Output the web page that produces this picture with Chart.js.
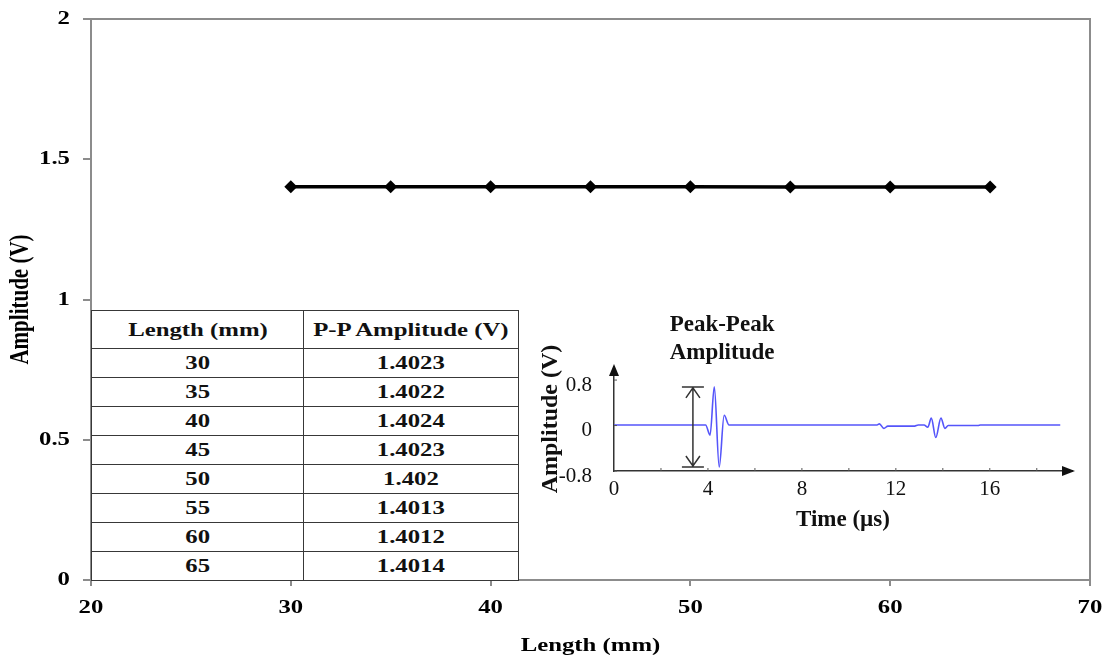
<!DOCTYPE html>
<html>
<head>
<meta charset="utf-8">
<script src="https://cdn.jsdelivr.net/npm/chart.js@4.4.0/dist/chart.umd.min.js"></script>
<style>
  html, body { margin: 0; padding: 0; background: #fff; }
  #wrap { position: relative; width: 1113px; height: 663px; overflow: hidden; background: #fff; }
  #main { position: absolute; left: 0; top: 0; }
  #inset { position: absolute; left: 520px; top: 300px; }
  #tbl { position: absolute; left: 91px; top: 310px; width: 428px; border-collapse: collapse; background: #fff;
         font-family: 'Liberation Serif', 'Times New Roman', serif; font-weight: bold; font-size: 19.5px; color: #111; }
  #tbl td { border: 1.5px solid #383838; text-align: center; padding: 0; line-height: 1; }
  #tbl tr.h td { height: 37px; }
  #tbl tr.r td { height: 28px; }
  #tbl span { display: inline-block; transform: scaleX(1.27); }
</style>
</head>
<body>
<div id="wrap">
  <canvas id="main" width="1113" height="663"></canvas>
  <table id="tbl"></table>
  <canvas id="inset" width="580" height="245"></canvas>
</div>
<script>
// ---------- data ----------
const lengths = [30, 35, 40, 45, 50, 55, 60, 65];
const ppAmplitude = [1.4023, 1.4022, 1.4024, 1.4023, 1.402, 1.4013, 1.4012, 1.4014];
const tableHeaders = ['Length (mm)', 'P-P Amplitude (V)'];

// inset waveform (time in µs, amplitude in V)
const sigTime = [0, 3.9, 4.09, 4.27, 4.48, 4.69, 4.9, 11.2, 11.3, 11.49, 11.66, 12.8, 12.95, 13.2, 13.36, 13.51, 13.7, 13.92, 14.09, 14.23, 15.5, 15.6, 19.0];
const sigAmp  = [0.01, 0.01, -0.17, 0.68, -0.73, 0.18, 0.01, 0.01, 0.03, -0.05, -0.01, -0.01, 0.01, 0.01, -0.03, 0.13, -0.21, 0.13, -0.05, 0.0, 0.0, 0.01, 0.01];
const insetXTicks = [0, 4, 8, 12, 16];
const insetXMinor = [2, 4, 6, 8, 10, 12, 14, 16, 18];
const insetYTicks = [-0.8, 0, 0.8];

const FONT = "'Liberation Serif', 'Times New Roman', serif";

// ---------- table ----------
(function buildTable() {
  const t = document.getElementById('tbl');
  let html = '<colgroup><col style="width:213px"><col style="width:215px"></colgroup>';
  html += '<tr class="h">' + tableHeaders.map(h => '<td><span>' + h + '</span></td>').join('') + '</tr>';
  lengths.forEach((L, i) => {
    html += '<tr class="r"><td><span>' + L + '</span></td><td><span>' + String(ppAmplitude[i]) + '</span></td></tr>';
  });
  t.innerHTML = html;
})();

// horizontal text stretch (reference glyphs are wide)
function stretchText(ctx, sx) {
  const orig = ctx.fillText.bind(ctx);
  ctx.fillText = function (text, x, y, maxWidth) {
    const m = ctx.getTransform();
    const p = m.transformPoint(new DOMPoint(x, y));
    ctx.save();
    ctx.setTransform(new DOMMatrix().translate(p.x, p.y).scale(sx, 1).translate(-p.x, -p.y).multiply(m));
    if (maxWidth === undefined) orig(text, x, y); else orig(text, x, y, maxWidth);
    ctx.restore();
  };
}

// ---------- main chart ----------
const frame = {
  id: 'frame',
  afterDraw(chart) {
    const { ctx, chartArea: a } = chart;
    ctx.save();
    ctx.strokeStyle = '#8c8c8c';
    ctx.lineWidth = 2;
    ctx.beginPath();
    ctx.moveTo(a.left, a.top);
    ctx.lineTo(a.right, a.top);
    ctx.lineTo(a.right, a.bottom);
    ctx.stroke();
    ctx.restore();
  }
};

const mctx = document.getElementById('main').getContext('2d');
stretchText(mctx, 1.27);
const tickFont = { family: FONT, size: 19.5, weight: 'bold' };

new Chart(mctx, {
  type: 'line',
  data: {
    datasets: [{
      data: lengths.map((x, i) => ({ x: x, y: ppAmplitude[i] })),
      borderColor: '#000', backgroundColor: '#000', borderWidth: 3.5,
      pointStyle: 'rectRot', pointRadius: 6.5, pointHoverRadius: 6.5,
      pointBackgroundColor: '#000', pointBorderColor: '#000', pointBorderWidth: 0,
      tension: 0
    }]
  },
  options: {
    responsive: false, animation: false, devicePixelRatio: 1,
    layout: { padding: { top: 19, right: 23, left: 0, bottom: 0 } },
    plugins: { legend: { display: false }, tooltip: { enabled: false } },
    scales: {
      x: {
        type: 'linear', min: 20, max: 70,
        ticks: { stepSize: 10, color: '#000', font: tickFont, padding: 10, maxRotation: 0 },
        grid: { drawOnChartArea: false, drawTicks: true, tickLength: 6, color: '#8c8c8c', lineWidth: 2 },
        border: { color: '#8c8c8c', width: 2 },
        title: { display: true, text: 'Length (mm)', color: '#000', font: { family: FONT, size: 19.5, weight: 'bold' }, padding: { top: 0, bottom: 5 } },
        afterFit(s) { s.height = 83; s.paddingLeft = 0; s.paddingRight = 0; }
      },
      y: {
        type: 'linear', min: 0, max: 2,
        ticks: { stepSize: 0.5, color: '#000', font: tickFont, padding: 13, callback: v => String(v) },
        grid: { drawOnChartArea: false, drawTicks: true, tickLength: 8, color: '#8c8c8c', lineWidth: 2 },
        border: { color: '#8c8c8c', width: 2 },
        title: { display: true, text: 'Amplitude (V)', color: '#000', font: { family: FONT, size: 21, weight: 'bold' }, padding: { top: 9, bottom: 0 } },
        afterFit(s) { s.width = 91; s.paddingTop = 0; s.paddingBottom = 0; }
      }
    }
  },
  plugins: [frame]
});

// ---------- inset chart ----------
const ppArrowTime = 3.36;     // where the peak-peak marker sits (µs)
const ppLabelTime = 4.6;      // centre of the "Peak-Peak Amplitude" note (µs)

const insetDecor = {
  id: 'insetDecor',
  afterDraw(chart) {
    const { ctx, chartArea: a, scales: { x, y } } = chart;
    ctx.save();
    const ax = x.getPixelForValue(0);
    const ay = y.getPixelForValue(-0.8);
    ctx.fillStyle = '#111';
    ctx.strokeStyle = '#333';
    ctx.lineWidth = 1.5;
    // y axis arrow
    ctx.beginPath();
    ctx.moveTo(ax, a.top - 3);
    ctx.lineTo(ax - 5, a.top + 9);
    ctx.lineTo(ax + 5, a.top + 9);
    ctx.closePath(); ctx.fill();
    // x axis arrow
    ctx.beginPath();
    ctx.moveTo(a.right + 3, ay);
    ctx.lineTo(a.right - 10, ay - 5);
    ctx.lineTo(a.right - 10, ay + 5);
    ctx.closePath(); ctx.fill();
    // small inward ticks
    ctx.lineWidth = 1;
    ctx.strokeStyle = '#555';
    insetXMinor.forEach(v => {
      const px = x.getPixelForValue(v);
      ctx.beginPath(); ctx.moveTo(px, ay); ctx.lineTo(px, ay - 3); ctx.stroke();
    });
    insetYTicks.forEach(v => {
      const py = y.getPixelForValue(v);
      ctx.beginPath(); ctx.moveTo(ax, py); ctx.lineTo(ax + 3, py); ctx.stroke();
    });
    // peak-peak double arrow
    const px = x.getPixelForValue(ppArrowTime);
    const yTop = y.getPixelForValue(Math.max(...sigAmp));
    const yBot = y.getPixelForValue(Math.min(...sigAmp));
    ctx.strokeStyle = '#333';
    ctx.lineWidth = 1.5;
    ctx.beginPath();
    ctx.moveTo(px - 11, yTop); ctx.lineTo(px + 11, yTop);
    ctx.moveTo(px - 11, yBot); ctx.lineTo(px + 11, yBot);
    ctx.moveTo(px, yTop); ctx.lineTo(px, yBot);
    ctx.moveTo(px - 7, yTop + 11); ctx.lineTo(px, yTop + 1); ctx.lineTo(px + 7, yTop + 11);
    ctx.moveTo(px - 7, yBot - 11); ctx.lineTo(px, yBot - 1); ctx.lineTo(px + 7, yBot - 11);
    ctx.stroke();
    // note
    const lx = x.getPixelForValue(ppLabelTime);
    ctx.fillStyle = '#111';
    ctx.font = 'bold 23px ' + FONT;
    ctx.textAlign = 'center';
    ctx.textBaseline = 'middle';
    ctx.fillText('Peak-Peak', lx, a.top - 42);
    ctx.fillText('Amplitude', lx, a.top - 14);
    ctx.restore();
  }
};

const ictx = document.getElementById('inset').getContext('2d');
new Chart(ictx, {
  type: 'line',
  data: {
    datasets: [{
      data: sigTime.map((t, i) => ({ x: t, y: sigAmp[i] })),
      borderColor: 'rgb(85, 85, 250)', borderWidth: 1.6,
      pointRadius: 0, cubicInterpolationMode: 'monotone', fill: false
    }]
  },
  options: {
    responsive: false, animation: false, devicePixelRatio: 1,
    layout: { padding: { top: 67, right: 28, left: 0, bottom: 0 } },
    plugins: { legend: { display: false }, tooltip: { enabled: false } },
    scales: {
      x: {
        type: 'linear', min: 0, max: 19.5,
        afterBuildTicks(s) { s.ticks = insetXTicks.map(v => ({ value: v })); },
        ticks: { color: '#111', font: { family: FONT, size: 21 }, padding: 6, maxRotation: 0, autoSkip: false },
        grid: { display: false, drawTicks: false },
        border: { color: '#333', width: 1.5 },
        title: { display: true, text: 'Time (µs)', color: '#111', font: { family: FONT, size: 23, weight: 'bold' }, padding: { top: 0, bottom: 11 } },
        afterFit(s) { s.height = 74; s.paddingLeft = 0; s.paddingRight = 0; }
      },
      y: {
        type: 'linear', min: -0.8, max: 1.03,
        afterBuildTicks(s) { s.ticks = insetYTicks.map(v => ({ value: v })); },
        ticks: { color: '#111', font: { family: FONT, size: 21 }, padding: 22, labelOffset: 5, autoSkip: false },
        grid: { display: false, drawTicks: false },
        border: { color: '#333', width: 1.5 },
        title: { display: true, text: 'Amplitude (V)', color: '#111', font: { family: FONT, size: 24, weight: 'bold' }, padding: { top: 16, bottom: 0 } },
        afterFit(s) { s.width = 94; s.paddingTop = 0; s.paddingBottom = 0; }
      }
    }
  },
  plugins: [insetDecor]
});
</script>
</body>
</html>
